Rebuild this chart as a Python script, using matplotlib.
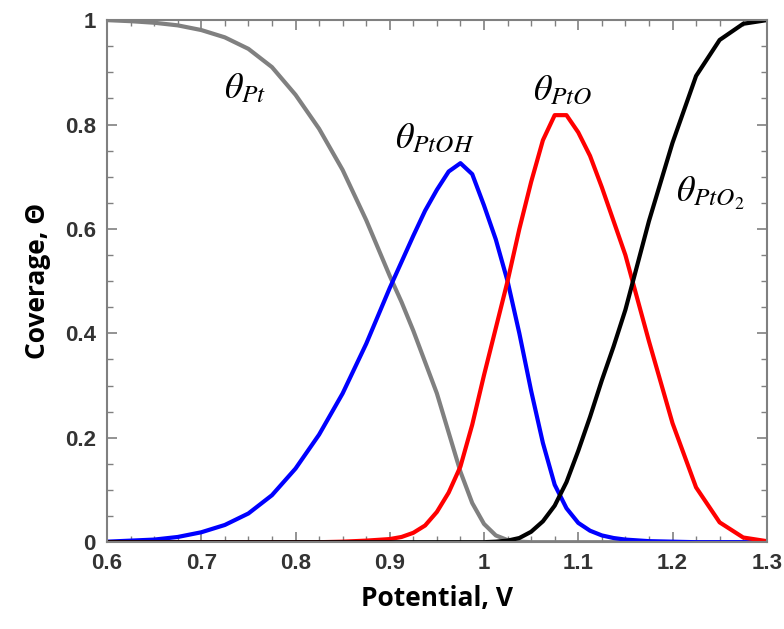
import matplotlib
matplotlib.use("Agg")
import matplotlib.pyplot as plt
from matplotlib.ticker import MultipleLocator, FormatStrFormatter

# potential grid (V)
potential = [0.6, 0.625, 0.65, 0.675, 0.7, 0.725, 0.75, 0.775, 0.8, 0.825, 0.85, 0.875,
             0.9, 0.9125, 0.925, 0.9375, 0.95, 0.9625, 0.975, 0.9875, 1.0, 1.0125, 1.025,
             1.0375, 1.05, 1.0625, 1.075, 1.0875, 1.1, 1.1125, 1.125, 1.1375, 1.15, 1.175,
             1.2, 1.225, 1.25, 1.275, 1.3]

theta_pt = [1.0, 0.998, 0.995, 0.99, 0.981, 0.967, 0.945, 0.91, 0.857, 0.792, 0.713, 0.617,
            0.51, 0.46, 0.405, 0.345, 0.285, 0.21, 0.135, 0.075, 0.035, 0.013, 0.004,
            0.001, 0.0, 0.0, 0.0, 0.0, 0.0, 0.0, 0.0, 0.0, 0.0, 0.0,
            0.0, 0.0, 0.0, 0.0, 0.0]

theta_ptoh = [0.001, 0.003, 0.005, 0.01, 0.019, 0.033, 0.055, 0.09, 0.141, 0.206, 0.285, 0.38,
              0.487, 0.537, 0.587, 0.635, 0.675, 0.71, 0.726, 0.705, 0.645, 0.58, 0.5,
              0.4, 0.29, 0.19, 0.11, 0.065, 0.037, 0.022, 0.013, 0.008, 0.005, 0.002,
              0.001, 0.0, 0.0, 0.0, 0.0]

theta_pto = [0.0, 0.0, 0.0, 0.0, 0.0, 0.0, 0.0, 0.0, 0.0, 0.0, 0.001, 0.003,
             0.006, 0.01, 0.018, 0.032, 0.058, 0.095, 0.145, 0.225, 0.32, 0.41, 0.5,
             0.6, 0.69, 0.77, 0.818, 0.818, 0.785, 0.74, 0.68, 0.615, 0.55, 0.385,
             0.228, 0.105, 0.038, 0.009, 0.002]

theta_pto2 = [0.0, 0.0, 0.0, 0.0, 0.0, 0.0, 0.0, 0.0, 0.0, 0.0, 0.0, 0.0,
              0.0, 0.0, 0.0, 0.0, 0.0, 0.0, 0.0, 0.0, 0.0, 0.001, 0.003,
              0.008, 0.02, 0.04, 0.07, 0.115, 0.175, 0.24, 0.31, 0.375, 0.445, 0.615,
              0.765, 0.893, 0.962, 0.993, 1.0]

plt.rcParams['mathtext.fontset'] = 'stix'

fig = plt.figure(figsize=(7.84, 6.29), dpi=100)
ax = fig.add_axes([0.1365, 0.138, 0.8415, 0.83])

lw = 3.0
style = dict(lw=lw, solid_joinstyle='round', solid_capstyle='round')
ax.plot(potential, theta_pt, color='#808080', **style)
ax.plot(potential, theta_ptoh, color='#0000ff', **style)
ax.plot(potential, theta_pto, color='#ff0000', **style)
ax.plot(potential, theta_pto2, color='black', **style)

# curve labels
ax.text(0.747, 0.87, r'$\theta_{Pt}$', fontsize=26, ha='center', va='center')
ax.text(0.948, 0.774, r'$\theta_{PtOH}$', fontsize=26, ha='center', va='center')
ax.text(1.084, 0.866, r'$\theta_{PtO}$', fontsize=26, ha='center', va='center')
ax.text(1.24, 0.668, r'$\theta_{PtO_2}$', fontsize=26, ha='center', va='center')

ax.set_xlim(0.6, 1.3)
ax.set_ylim(0, 1)
ax.xaxis.set_major_locator(MultipleLocator(0.1))
ax.xaxis.set_minor_locator(MultipleLocator(0.025))
ax.yaxis.set_major_locator(MultipleLocator(0.2))
ax.yaxis.set_minor_locator(MultipleLocator(0.05))
ax.xaxis.set_major_formatter(FormatStrFormatter('%g'))
ax.yaxis.set_major_formatter(FormatStrFormatter('%g'))

for s in ax.spines.values():
    s.set_color('#808080')
    s.set_linewidth(1.5)
ax.tick_params(which='both', direction='in', top=True, right=True, color='#808080')
ax.tick_params(which='major', length=7, width=1.2, pad=8)
ax.tick_params(which='minor', length=4, width=1.0)
for lab in ax.get_xticklabels() + ax.get_yticklabels():
    lab.set_fontfamily('Liberation Sans')
    lab.set_fontweight('bold')
    lab.set_fontsize(16)
    lab.set_color('#333333')

ax.set_xlabel('Potential, V', fontsize=19, fontweight='bold', family='Open Sans', labelpad=8)
ax.set_ylabel('Coverage, Θ', fontsize=19, fontweight='bold', family='Open Sans', labelpad=10)

fig.savefig('out.png', dpi=100)
